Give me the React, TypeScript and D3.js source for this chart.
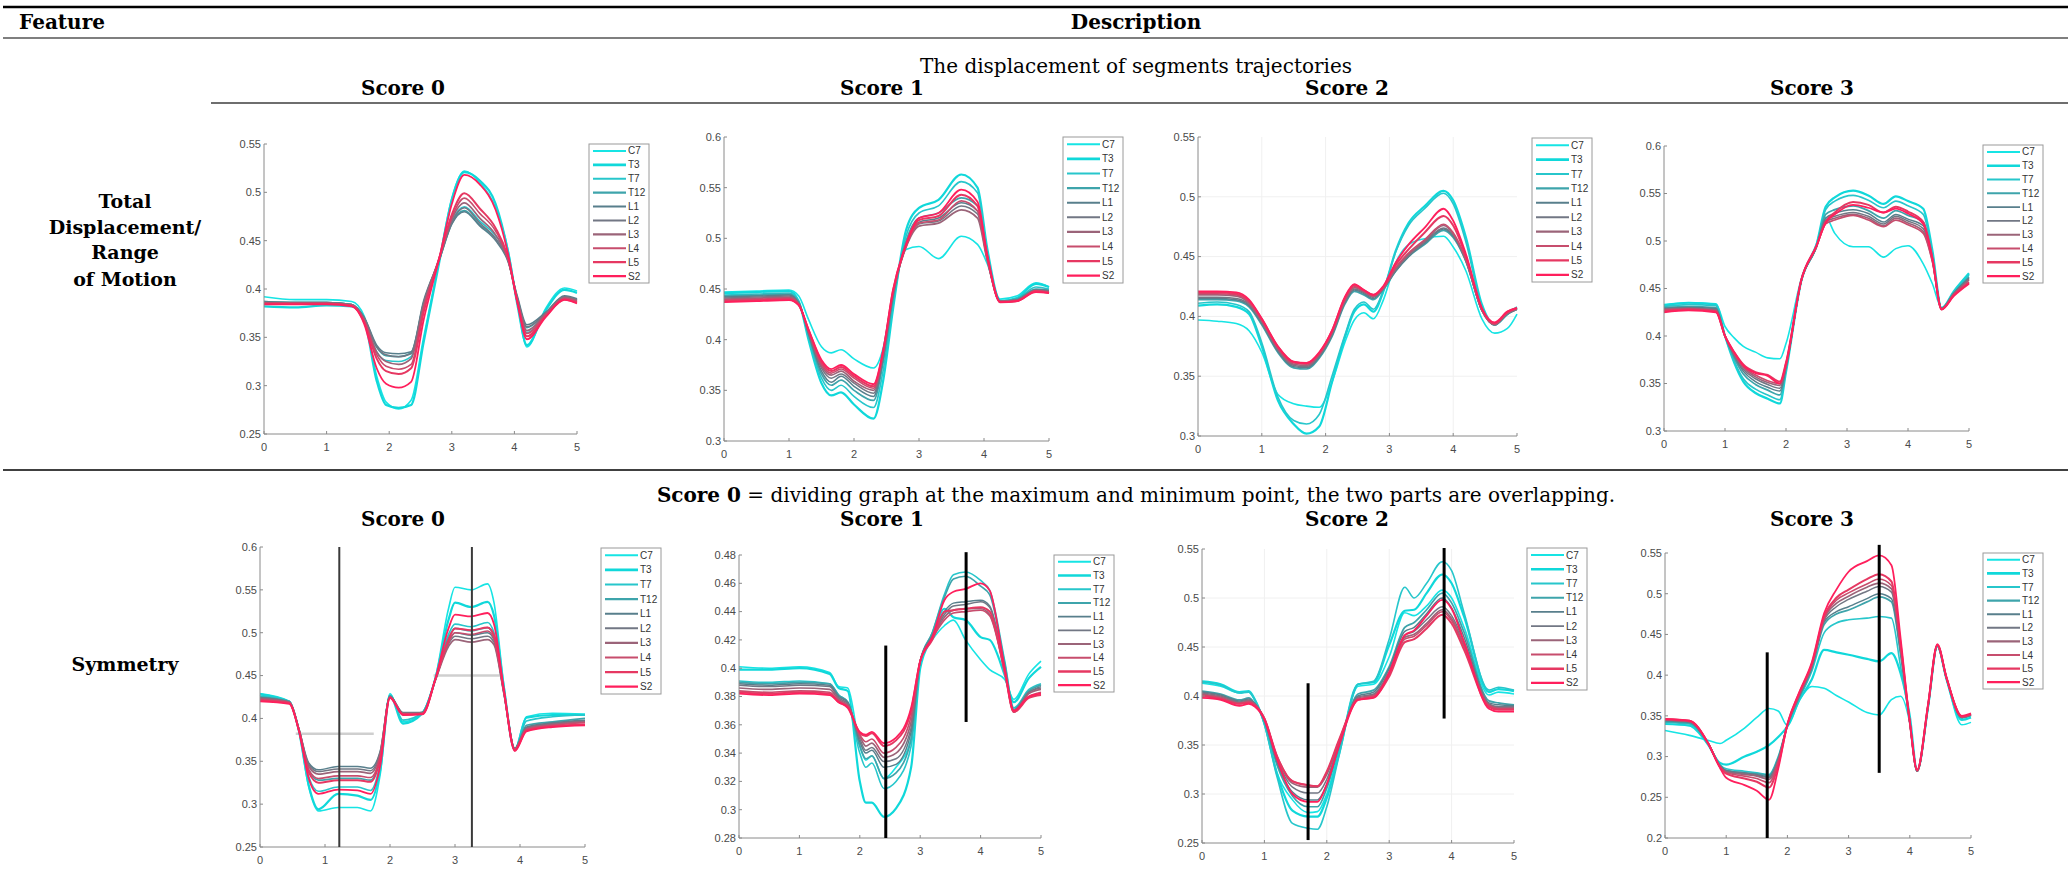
import React from 'react';
import * as d3 from 'd3';

// ---- series meta ----
const seriesNames = ['C7', 'T3', 'T7', 'T12', 'L1', 'L2', 'L3', 'L4', 'L5', 'S2'];
const seriesColors = ['#16e4e4', '#10d8da', '#27c6cb', '#3ea4ab', '#587f8c', '#727784', '#9b6479', '#c74d6d', '#e63862', '#ff1f5c'];
const seriesWidths = [1.6, 2.2, 1.6, 1.7, 1.5, 1.5, 1.7, 1.6, 2.0, 1.8];
const scoreLabels = ['Score 0', 'Score 1', 'Score 2', 'Score 3'];
const xTickValues = [0, 1, 2, 3, 4, 5];

// ---- row 1: displacement, score 0..3 ----
const xsDisp0 = [0, 0.5, 1, 1.4, 1.6, 1.8, 1.95, 2.15, 2.35, 2.55, 2.8, 3.0, 3.2, 3.45, 3.7, 3.9, 4.05, 4.2, 4.5, 4.8, 5];
const dispScore0 = [
  [0.392, 0.389, 0.389, 0.387, 0.372, 0.310, 0.283, 0.276, 0.285, 0.350, 0.430, 0.494, 0.522, 0.510, 0.484, 0.440, 0.385, 0.340, 0.380, 0.401, 0.398],
  [0.382, 0.381, 0.383, 0.382, 0.368, 0.305, 0.280, 0.277, 0.280, 0.345, 0.428, 0.492, 0.521, 0.512, 0.488, 0.438, 0.383, 0.342, 0.378, 0.399, 0.396],
  [0.386, 0.386, 0.386, 0.384, 0.368, 0.335, 0.326, 0.325, 0.330, 0.380, 0.430, 0.470, 0.485, 0.470, 0.455, 0.432, 0.385, 0.355, 0.372, 0.391, 0.388],
  [0.387, 0.386, 0.386, 0.384, 0.370, 0.340, 0.331, 0.330, 0.334, 0.385, 0.430, 0.468, 0.481, 0.466, 0.452, 0.430, 0.390, 0.360, 0.375, 0.392, 0.389],
  [0.387, 0.386, 0.386, 0.384, 0.371, 0.342, 0.334, 0.333, 0.335, 0.388, 0.430, 0.467, 0.480, 0.465, 0.450, 0.428, 0.392, 0.363, 0.376, 0.393, 0.390],
  [0.386, 0.386, 0.386, 0.384, 0.370, 0.340, 0.332, 0.330, 0.333, 0.386, 0.431, 0.469, 0.484, 0.468, 0.452, 0.429, 0.390, 0.361, 0.375, 0.392, 0.389],
  [0.385, 0.385, 0.385, 0.383, 0.368, 0.335, 0.325, 0.322, 0.328, 0.383, 0.432, 0.472, 0.489, 0.473, 0.456, 0.430, 0.388, 0.357, 0.374, 0.391, 0.388],
  [0.385, 0.385, 0.385, 0.383, 0.367, 0.332, 0.320, 0.317, 0.322, 0.380, 0.432, 0.474, 0.494, 0.478, 0.460, 0.431, 0.387, 0.354, 0.373, 0.390, 0.387],
  [0.385, 0.385, 0.385, 0.383, 0.366, 0.328, 0.315, 0.312, 0.318, 0.376, 0.432, 0.477, 0.499, 0.483, 0.463, 0.432, 0.386, 0.351, 0.372, 0.389, 0.386],
  [0.384, 0.384, 0.384, 0.382, 0.364, 0.318, 0.302, 0.298, 0.304, 0.368, 0.432, 0.488, 0.518, 0.508, 0.482, 0.436, 0.385, 0.348, 0.371, 0.389, 0.385],
];

const xsDisp1 = [0, 0.5, 1.0, 1.15, 1.3, 1.5, 1.65, 1.8, 2.0, 2.3, 2.45, 2.6, 2.8, 3.0, 3.3, 3.65, 3.9, 4.05, 4.25, 4.5, 4.8, 5];
const dispScore1 = [
  [0.447, 0.448, 0.449, 0.443, 0.420, 0.393, 0.387, 0.390, 0.381, 0.372, 0.392, 0.445, 0.489, 0.492, 0.480, 0.502, 0.494, 0.475, 0.440, 0.443, 0.456, 0.452],
  [0.446, 0.447, 0.448, 0.438, 0.400, 0.357, 0.345, 0.348, 0.336, 0.322, 0.360, 0.430, 0.508, 0.530, 0.538, 0.563, 0.550, 0.490, 0.438, 0.441, 0.455, 0.452],
  [0.444, 0.445, 0.446, 0.437, 0.403, 0.362, 0.350, 0.355, 0.344, 0.333, 0.370, 0.435, 0.502, 0.525, 0.532, 0.556, 0.545, 0.486, 0.438, 0.440, 0.452, 0.450],
  [0.443, 0.444, 0.445, 0.437, 0.405, 0.366, 0.355, 0.360, 0.350, 0.340, 0.378, 0.440, 0.497, 0.520, 0.525, 0.540, 0.532, 0.482, 0.438, 0.440, 0.450, 0.449],
  [0.442, 0.443, 0.444, 0.436, 0.406, 0.369, 0.358, 0.364, 0.354, 0.344, 0.382, 0.443, 0.494, 0.516, 0.520, 0.535, 0.527, 0.480, 0.438, 0.439, 0.449, 0.448],
  [0.441, 0.442, 0.443, 0.436, 0.407, 0.372, 0.362, 0.366, 0.357, 0.347, 0.385, 0.445, 0.492, 0.514, 0.517, 0.532, 0.524, 0.479, 0.438, 0.439, 0.449, 0.448],
  [0.440, 0.441, 0.442, 0.435, 0.408, 0.374, 0.365, 0.369, 0.359, 0.350, 0.387, 0.446, 0.491, 0.512, 0.515, 0.528, 0.520, 0.478, 0.438, 0.439, 0.448, 0.447],
  [0.439, 0.440, 0.441, 0.435, 0.409, 0.376, 0.367, 0.371, 0.362, 0.352, 0.388, 0.447, 0.492, 0.515, 0.518, 0.537, 0.527, 0.480, 0.437, 0.438, 0.448, 0.447],
  [0.438, 0.439, 0.440, 0.434, 0.410, 0.378, 0.369, 0.373, 0.364, 0.354, 0.389, 0.448, 0.493, 0.518, 0.522, 0.543, 0.532, 0.482, 0.437, 0.438, 0.448, 0.446],
  [0.437, 0.438, 0.439, 0.434, 0.410, 0.380, 0.371, 0.375, 0.366, 0.356, 0.390, 0.449, 0.494, 0.520, 0.525, 0.548, 0.536, 0.484, 0.437, 0.438, 0.447, 0.446],
];

const xsDisp2 = [0, 0.3, 0.6, 0.8, 1.0, 1.25, 1.5, 1.7, 1.9, 2.1, 2.3, 2.45, 2.6, 2.75, 2.9, 3.1, 3.3, 3.55, 3.85, 4.0, 4.2, 4.45, 4.65, 4.85, 5];
const dispScore2 = [
  [0.397, 0.396, 0.394, 0.388, 0.370, 0.335, 0.327, 0.325, 0.324, 0.345, 0.378, 0.397, 0.403, 0.398, 0.413, 0.445, 0.460, 0.465, 0.467, 0.458, 0.438, 0.398, 0.386, 0.390, 0.402],
  [0.409, 0.410, 0.408, 0.402, 0.375, 0.330, 0.310, 0.302, 0.308, 0.345, 0.382, 0.404, 0.410, 0.404, 0.420, 0.455, 0.478, 0.492, 0.505, 0.497, 0.466, 0.410, 0.393, 0.402, 0.407],
  [0.411, 0.412, 0.410, 0.404, 0.378, 0.333, 0.313, 0.310, 0.318, 0.350, 0.384, 0.406, 0.412, 0.406, 0.421, 0.454, 0.476, 0.490, 0.503, 0.494, 0.462, 0.408, 0.393, 0.403, 0.408],
  [0.414, 0.414, 0.413, 0.408, 0.393, 0.370, 0.357, 0.356, 0.365, 0.383, 0.410, 0.421, 0.418, 0.414, 0.422, 0.438, 0.450, 0.460, 0.472, 0.466, 0.446, 0.405, 0.393, 0.402, 0.406],
  [0.415, 0.415, 0.414, 0.409, 0.394, 0.371, 0.358, 0.357, 0.366, 0.384, 0.411, 0.422, 0.419, 0.415, 0.423, 0.438, 0.450, 0.461, 0.473, 0.467, 0.446, 0.405, 0.393, 0.402, 0.406],
  [0.416, 0.416, 0.415, 0.410, 0.395, 0.372, 0.359, 0.358, 0.367, 0.385, 0.412, 0.423, 0.420, 0.416, 0.423, 0.439, 0.451, 0.462, 0.474, 0.468, 0.447, 0.405, 0.393, 0.402, 0.406],
  [0.418, 0.418, 0.417, 0.411, 0.396, 0.373, 0.360, 0.359, 0.368, 0.386, 0.413, 0.424, 0.421, 0.417, 0.423, 0.440, 0.452, 0.463, 0.476, 0.469, 0.447, 0.405, 0.393, 0.403, 0.406],
  [0.419, 0.419, 0.418, 0.412, 0.397, 0.374, 0.361, 0.360, 0.369, 0.387, 0.414, 0.425, 0.421, 0.417, 0.424, 0.441, 0.453, 0.464, 0.477, 0.470, 0.448, 0.406, 0.394, 0.403, 0.407],
  [0.420, 0.420, 0.419, 0.413, 0.398, 0.375, 0.362, 0.361, 0.369, 0.388, 0.415, 0.426, 0.422, 0.418, 0.424, 0.443, 0.456, 0.470, 0.484, 0.476, 0.450, 0.406, 0.394, 0.404, 0.407],
  [0.421, 0.421, 0.420, 0.414, 0.398, 0.375, 0.362, 0.361, 0.370, 0.388, 0.416, 0.427, 0.422, 0.418, 0.425, 0.445, 0.460, 0.474, 0.490, 0.480, 0.452, 0.407, 0.395, 0.404, 0.407],
];

const xsDisp3 = [0, 0.4, 0.85, 1.0, 1.15, 1.3, 1.5, 1.7, 1.9, 2.0, 2.25, 2.5, 2.65, 2.8, 3.1, 3.35, 3.6, 3.8, 4.0, 4.25, 4.4, 4.55, 4.75, 5];
const dispScore3 = [
  [0.433, 0.435, 0.434, 0.410, 0.398, 0.389, 0.383, 0.377, 0.376, 0.392, 0.460, 0.497, 0.525, 0.508, 0.494, 0.494, 0.483, 0.492, 0.495, 0.476, 0.455, 0.430, 0.445, 0.465],
  [0.432, 0.435, 0.433, 0.400, 0.372, 0.352, 0.340, 0.334, 0.329, 0.362, 0.458, 0.496, 0.536, 0.546, 0.553, 0.548, 0.539, 0.547, 0.542, 0.534, 0.490, 0.429, 0.447, 0.466],
  [0.431, 0.433, 0.432, 0.400, 0.374, 0.355, 0.344, 0.338, 0.333, 0.364, 0.458, 0.495, 0.533, 0.542, 0.548, 0.543, 0.535, 0.542, 0.537, 0.528, 0.487, 0.429, 0.446, 0.464],
  [0.430, 0.431, 0.430, 0.400, 0.377, 0.360, 0.349, 0.343, 0.338, 0.366, 0.458, 0.494, 0.528, 0.533, 0.537, 0.532, 0.524, 0.532, 0.527, 0.520, 0.483, 0.429, 0.445, 0.462],
  [0.429, 0.430, 0.429, 0.400, 0.379, 0.363, 0.352, 0.346, 0.342, 0.367, 0.458, 0.494, 0.524, 0.529, 0.533, 0.529, 0.520, 0.528, 0.523, 0.516, 0.481, 0.429, 0.445, 0.461],
  [0.428, 0.429, 0.428, 0.400, 0.380, 0.365, 0.355, 0.349, 0.345, 0.368, 0.458, 0.494, 0.522, 0.526, 0.530, 0.526, 0.518, 0.526, 0.521, 0.513, 0.480, 0.429, 0.444, 0.460],
  [0.428, 0.429, 0.427, 0.400, 0.381, 0.367, 0.357, 0.351, 0.348, 0.369, 0.458, 0.494, 0.520, 0.524, 0.528, 0.524, 0.516, 0.524, 0.519, 0.510, 0.479, 0.429, 0.444, 0.459],
  [0.427, 0.428, 0.426, 0.400, 0.382, 0.368, 0.359, 0.353, 0.350, 0.370, 0.458, 0.494, 0.518, 0.522, 0.527, 0.522, 0.515, 0.522, 0.517, 0.508, 0.478, 0.428, 0.443, 0.457],
  [0.426, 0.428, 0.426, 0.400, 0.383, 0.370, 0.362, 0.359, 0.352, 0.372, 0.459, 0.495, 0.520, 0.530, 0.541, 0.538, 0.530, 0.536, 0.531, 0.520, 0.482, 0.428, 0.443, 0.456],
  [0.425, 0.427, 0.425, 0.400, 0.383, 0.369, 0.361, 0.358, 0.350, 0.371, 0.459, 0.495, 0.519, 0.528, 0.538, 0.535, 0.530, 0.534, 0.529, 0.518, 0.481, 0.428, 0.442, 0.455],
];

// ---- row 2: symmetry, score 0..3 ----
const xsSym0 = [0, 0.45, 0.6, 0.75, 0.9, 1.2, 1.5, 1.7, 1.85, 2.0, 2.2, 2.5, 2.7, 2.9, 3.0, 3.25, 3.5, 3.6, 3.75, 3.92, 4.1, 4.5, 5];
const symScore0 = [
  [0.429, 0.420, 0.385, 0.320, 0.292, 0.296, 0.296, 0.292, 0.335, 0.429, 0.396, 0.407, 0.448, 0.528, 0.553, 0.550, 0.557, 0.535, 0.440, 0.364, 0.402, 0.406, 0.405],
  [0.428, 0.419, 0.385, 0.322, 0.294, 0.312, 0.310, 0.305, 0.340, 0.427, 0.394, 0.406, 0.447, 0.515, 0.535, 0.530, 0.536, 0.520, 0.437, 0.363, 0.401, 0.404, 0.404],
  [0.426, 0.420, 0.386, 0.332, 0.315, 0.320, 0.320, 0.316, 0.348, 0.427, 0.398, 0.407, 0.446, 0.498, 0.510, 0.507, 0.512, 0.500, 0.434, 0.364, 0.397, 0.402, 0.404],
  [0.425, 0.420, 0.387, 0.340, 0.328, 0.330, 0.330, 0.328, 0.355, 0.426, 0.404, 0.407, 0.446, 0.494, 0.505, 0.502, 0.506, 0.496, 0.432, 0.365, 0.392, 0.396, 0.400],
  [0.424, 0.419, 0.387, 0.348, 0.340, 0.344, 0.344, 0.342, 0.362, 0.426, 0.407, 0.407, 0.445, 0.490, 0.500, 0.497, 0.500, 0.492, 0.431, 0.365, 0.390, 0.395, 0.398],
  [0.424, 0.419, 0.387, 0.346, 0.338, 0.341, 0.341, 0.339, 0.361, 0.426, 0.406, 0.407, 0.445, 0.487, 0.496, 0.493, 0.496, 0.489, 0.430, 0.365, 0.389, 0.394, 0.397],
  [0.423, 0.419, 0.387, 0.344, 0.335, 0.338, 0.338, 0.336, 0.359, 0.425, 0.406, 0.406, 0.445, 0.484, 0.492, 0.489, 0.492, 0.486, 0.430, 0.364, 0.388, 0.393, 0.396],
  [0.422, 0.418, 0.386, 0.340, 0.330, 0.333, 0.333, 0.331, 0.356, 0.425, 0.405, 0.406, 0.446, 0.488, 0.500, 0.498, 0.502, 0.493, 0.432, 0.364, 0.387, 0.392, 0.395],
  [0.421, 0.418, 0.386, 0.337, 0.325, 0.328, 0.328, 0.326, 0.353, 0.424, 0.405, 0.405, 0.446, 0.492, 0.505, 0.503, 0.506, 0.497, 0.433, 0.363, 0.386, 0.391, 0.393],
  [0.420, 0.417, 0.385, 0.330, 0.312, 0.317, 0.316, 0.312, 0.345, 0.424, 0.404, 0.405, 0.447, 0.505, 0.521, 0.519, 0.523, 0.510, 0.435, 0.362, 0.385, 0.390, 0.392],
];

const xsSym1 = [0, 0.5, 1.0, 1.5, 1.65, 1.8, 2.0, 2.1, 2.2, 2.4, 2.6, 2.85, 3.0, 3.2, 3.4, 3.55, 3.75, 4.0, 4.15, 4.4, 4.55, 4.8, 5];
const symScore1 = [
  [0.401, 0.400, 0.401, 0.397, 0.387, 0.386, 0.345, 0.335, 0.338, 0.322, 0.330, 0.350, 0.405, 0.420, 0.430, 0.434, 0.420, 0.406, 0.399, 0.392, 0.378, 0.396, 0.405],
  [0.399, 0.399, 0.400, 0.396, 0.386, 0.384, 0.320, 0.305, 0.305, 0.295, 0.301, 0.330, 0.400, 0.422, 0.442, 0.436, 0.434, 0.422, 0.420, 0.395, 0.376, 0.393, 0.401],
  [0.391, 0.390, 0.391, 0.389, 0.381, 0.376, 0.340, 0.330, 0.333, 0.315, 0.320, 0.345, 0.404, 0.425, 0.452, 0.466, 0.468, 0.462, 0.455, 0.405, 0.372, 0.385, 0.389],
  [0.390, 0.389, 0.390, 0.389, 0.381, 0.376, 0.345, 0.336, 0.338, 0.322, 0.326, 0.350, 0.405, 0.425, 0.450, 0.463, 0.465, 0.458, 0.452, 0.403, 0.371, 0.384, 0.388],
  [0.389, 0.388, 0.389, 0.388, 0.380, 0.376, 0.348, 0.340, 0.342, 0.330, 0.332, 0.355, 0.405, 0.423, 0.440, 0.446, 0.447, 0.448, 0.444, 0.400, 0.370, 0.383, 0.387],
  [0.388, 0.387, 0.388, 0.387, 0.379, 0.375, 0.350, 0.342, 0.344, 0.334, 0.336, 0.358, 0.405, 0.422, 0.438, 0.444, 0.445, 0.447, 0.443, 0.399, 0.370, 0.383, 0.386],
  [0.386, 0.385, 0.386, 0.385, 0.378, 0.374, 0.352, 0.345, 0.347, 0.337, 0.340, 0.362, 0.405, 0.421, 0.436, 0.441, 0.442, 0.442, 0.438, 0.398, 0.369, 0.382, 0.385],
  [0.384, 0.383, 0.384, 0.383, 0.377, 0.373, 0.353, 0.348, 0.350, 0.340, 0.344, 0.366, 0.405, 0.421, 0.434, 0.439, 0.440, 0.441, 0.437, 0.397, 0.369, 0.380, 0.383],
  [0.383, 0.382, 0.383, 0.382, 0.376, 0.373, 0.354, 0.352, 0.354, 0.345, 0.349, 0.370, 0.405, 0.420, 0.440, 0.441, 0.442, 0.443, 0.440, 0.397, 0.369, 0.379, 0.381],
  [0.382, 0.381, 0.382, 0.381, 0.376, 0.372, 0.355, 0.353, 0.355, 0.347, 0.351, 0.372, 0.405, 0.422, 0.448, 0.454, 0.456, 0.460, 0.455, 0.400, 0.370, 0.380, 0.382],
];

const xsSym2 = [0, 0.3, 0.6, 0.75, 0.85, 1.0, 1.2, 1.45, 1.7, 1.85, 2.0, 2.2, 2.5, 2.75, 3.0, 3.25, 3.4, 3.6, 3.85, 4.0, 4.2, 4.6, 4.75, 5];
const symScore2 = [
  [0.413, 0.410, 0.403, 0.404, 0.395, 0.372, 0.322, 0.294, 0.281, 0.282, 0.300, 0.344, 0.410, 0.412, 0.440, 0.485, 0.482, 0.492, 0.508, 0.500, 0.470, 0.401, 0.404, 0.402],
  [0.415, 0.412, 0.404, 0.405, 0.396, 0.372, 0.321, 0.283, 0.277, 0.277, 0.296, 0.342, 0.412, 0.414, 0.452, 0.487, 0.488, 0.505, 0.524, 0.515, 0.481, 0.404, 0.407, 0.405],
  [0.414, 0.411, 0.403, 0.404, 0.396, 0.371, 0.318, 0.270, 0.265, 0.264, 0.287, 0.340, 0.412, 0.415, 0.458, 0.511, 0.500, 0.515, 0.537, 0.528, 0.485, 0.406, 0.409, 0.406],
  [0.405, 0.402, 0.396, 0.398, 0.392, 0.374, 0.330, 0.298, 0.287, 0.287, 0.306, 0.348, 0.402, 0.406, 0.430, 0.470, 0.475, 0.488, 0.505, 0.495, 0.465, 0.395, 0.393, 0.391],
  [0.404, 0.401, 0.395, 0.397, 0.392, 0.375, 0.333, 0.302, 0.294, 0.294, 0.310, 0.350, 0.400, 0.404, 0.428, 0.466, 0.470, 0.484, 0.500, 0.490, 0.460, 0.393, 0.391, 0.390],
  [0.403, 0.400, 0.394, 0.396, 0.392, 0.376, 0.336, 0.307, 0.301, 0.301, 0.315, 0.352, 0.399, 0.402, 0.425, 0.462, 0.466, 0.478, 0.491, 0.482, 0.455, 0.392, 0.389, 0.389],
  [0.402, 0.399, 0.393, 0.395, 0.391, 0.377, 0.338, 0.311, 0.307, 0.307, 0.320, 0.354, 0.398, 0.401, 0.423, 0.460, 0.463, 0.474, 0.488, 0.479, 0.452, 0.391, 0.388, 0.388],
  [0.401, 0.398, 0.392, 0.394, 0.391, 0.377, 0.339, 0.313, 0.309, 0.308, 0.322, 0.355, 0.397, 0.400, 0.422, 0.458, 0.461, 0.472, 0.486, 0.477, 0.450, 0.390, 0.387, 0.387],
  [0.400, 0.397, 0.392, 0.393, 0.390, 0.377, 0.339, 0.313, 0.309, 0.308, 0.323, 0.356, 0.396, 0.399, 0.420, 0.455, 0.458, 0.469, 0.483, 0.474, 0.447, 0.389, 0.386, 0.386],
  [0.398, 0.396, 0.390, 0.392, 0.389, 0.376, 0.336, 0.300, 0.292, 0.292, 0.310, 0.350, 0.396, 0.398, 0.424, 0.462, 0.467, 0.482, 0.498, 0.489, 0.455, 0.387, 0.384, 0.384],
];

const xsSym3 = [0, 0.4, 0.7, 0.9, 1.0, 1.3, 1.5, 1.7, 1.85, 2.0, 2.2, 2.4, 2.6, 2.8, 3.0, 3.3, 3.5, 3.7, 3.85, 4.0, 4.12, 4.3, 4.45, 4.6, 4.85, 5];
const symScore3 = [
  [0.332, 0.326, 0.320, 0.316, 0.320, 0.335, 0.348, 0.359, 0.356, 0.338, 0.370, 0.386, 0.384, 0.375, 0.367, 0.354, 0.351, 0.370, 0.374, 0.341, 0.283, 0.360, 0.435, 0.395, 0.339, 0.342],
  [0.340, 0.338, 0.315, 0.292, 0.290, 0.300, 0.306, 0.314, 0.324, 0.337, 0.370, 0.395, 0.431, 0.428, 0.425, 0.420, 0.417, 0.427, 0.402, 0.350, 0.283, 0.362, 0.436, 0.395, 0.345, 0.348],
  [0.342, 0.340, 0.316, 0.290, 0.285, 0.282, 0.280, 0.278, 0.300, 0.338, 0.372, 0.405, 0.452, 0.464, 0.468, 0.470, 0.472, 0.470, 0.410, 0.345, 0.282, 0.362, 0.437, 0.396, 0.347, 0.350],
  [0.343, 0.341, 0.316, 0.289, 0.283, 0.280, 0.279, 0.277, 0.298, 0.338, 0.374, 0.408, 0.462, 0.475, 0.480, 0.490, 0.496, 0.490, 0.425, 0.342, 0.282, 0.363, 0.436, 0.396, 0.348, 0.351],
  [0.344, 0.342, 0.317, 0.289, 0.283, 0.280, 0.278, 0.275, 0.297, 0.338, 0.375, 0.410, 0.465, 0.478, 0.484, 0.494, 0.500, 0.494, 0.428, 0.342, 0.282, 0.363, 0.436, 0.396, 0.348, 0.351],
  [0.345, 0.343, 0.317, 0.288, 0.282, 0.279, 0.277, 0.274, 0.296, 0.339, 0.376, 0.411, 0.467, 0.484, 0.493, 0.503, 0.509, 0.502, 0.432, 0.342, 0.282, 0.363, 0.436, 0.396, 0.348, 0.351],
  [0.345, 0.343, 0.317, 0.288, 0.281, 0.278, 0.276, 0.272, 0.295, 0.339, 0.377, 0.412, 0.469, 0.488, 0.497, 0.508, 0.513, 0.506, 0.434, 0.342, 0.282, 0.363, 0.436, 0.396, 0.349, 0.352],
  [0.345, 0.343, 0.317, 0.287, 0.280, 0.276, 0.273, 0.268, 0.293, 0.339, 0.378, 0.413, 0.470, 0.492, 0.501, 0.512, 0.518, 0.510, 0.436, 0.342, 0.283, 0.364, 0.437, 0.397, 0.349, 0.352],
  [0.346, 0.344, 0.317, 0.287, 0.279, 0.273, 0.269, 0.262, 0.290, 0.339, 0.379, 0.414, 0.472, 0.495, 0.505, 0.518, 0.524, 0.515, 0.438, 0.342, 0.283, 0.364, 0.437, 0.397, 0.349, 0.352],
  [0.346, 0.344, 0.317, 0.286, 0.274, 0.265, 0.258, 0.247, 0.285, 0.340, 0.380, 0.416, 0.476, 0.505, 0.527, 0.540, 0.547, 0.535, 0.445, 0.343, 0.284, 0.365, 0.438, 0.397, 0.350, 0.353],
];

// symmetry division lines (x, from y0 to y1), one list per score
const symmetryCuts = [
  [{ x: 1.22, y0: 0.6, y1: 0.25 }, { x: 3.26, y0: 0.6, y1: 0.25 }],
  [{ x: 2.43, y0: 0.416, y1: 0.28 }, { x: 3.76, y0: 0.482, y1: 0.362 }],
  [{ x: 1.7, y0: 0.413, y1: 0.253 }, { x: 3.88, y0: 0.551, y1: 0.377 }],
  [{ x: 1.67, y0: 0.428, y1: 0.2 }, { x: 3.5, y0: 0.56, y1: 0.28 }],
];
// faint midlines on symmetry score 0
const sym0Midlines = [{ x0: 0.55, x1: 1.75, y: 0.382 }, { x0: 2.67, x1: 3.72, y: 0.45 }];

// layout of each plot (pixel boxes)
const panels = [
  { xs: xsDisp0, data: dispScore0, dom: [0.25, 0.55], step: 0.05, l: 264, r: 577, t: 144, b: 434, lx: 589, ly: 144, lh: 139 },
  { xs: xsDisp1, data: dispScore1, dom: [0.3, 0.6], step: 0.05, l: 724, r: 1049, t: 137, b: 441, lx: 1063, ly: 137, lh: 146 },
  { xs: xsDisp2, data: dispScore2, dom: [0.3, 0.55], step: 0.05, l: 1198, r: 1517, t: 137, b: 436, lx: 1532, ly: 138, lh: 144, grid: true },
  { xs: xsDisp3, data: dispScore3, dom: [0.3, 0.6], step: 0.05, l: 1664, r: 1969, t: 146, b: 431, lx: 1983, ly: 145, lh: 138 },
  { xs: xsSym0, data: symScore0, dom: [0.25, 0.6], step: 0.05, l: 260, r: 585, t: 547, b: 847, lx: 601, ly: 548, lh: 146, cuts: symmetryCuts[0], mids: sym0Midlines, cutW: 2, cutC: '#3a3a3a' },
  { xs: xsSym1, data: symScore1, dom: [0.28, 0.48], step: 0.02, l: 739, r: 1041, t: 555, b: 838, lx: 1054, ly: 555, lh: 137, cuts: symmetryCuts[1] },
  { xs: xsSym2, data: symScore2, dom: [0.25, 0.55], step: 0.05, l: 1202, r: 1514, t: 549, b: 843, lx: 1527, ly: 548, lh: 142, cuts: symmetryCuts[2], grid: true },
  { xs: xsSym3, data: symScore3, dom: [0.2, 0.55], step: 0.05, l: 1665, r: 1971, t: 553, b: 838, lx: 1983, ly: 553, lh: 136, cuts: symmetryCuts[3] },
];

const tickFont = '"Liberation Sans", Arial, sans-serif';
const serif = '"DejaVu Serif", serif';
const fmt = (v: number) => String(+v.toFixed(2));

function Panel({ p }: { p: any }) {
  const x = d3.scaleLinear().domain([0, 5]).range([p.l, p.r]);
  const y = d3.scaleLinear().domain(p.dom).range([p.b, p.t]);
  const line = d3.line<number>()
    .x((_, i) => x(p.xs[i]))
    .y((d) => y(d))
    .curve(d3.curveMonotoneX);
  const yTicks = d3.range(p.dom[0], p.dom[1] + p.step / 2, p.step);
  const rowH = p.lh / 10;

  return (
    <g>
      {/* faint grid */}
      {p.grid && xTickValues.slice(1, -1).map((v) => (
        <line key={'gx' + v} x1={x(v)} x2={x(v)} y1={p.t} y2={p.b} stroke="#f0f0f0" strokeWidth={1} />
      ))}
      {p.grid && yTicks.slice(1, -1).map((v) => (
        <line key={'gy' + v} x1={p.l} x2={p.r} y1={y(v)} y2={y(v)} stroke="#f0f0f0" strokeWidth={1} />
      ))}

      {/* faint midlines */}
      {p.mids && p.mids.map((m: any, i: number) => (
        <line key={'m' + i} x1={x(m.x0)} x2={x(m.x1)} y1={y(m.y)} y2={y(m.y)} stroke="#cfcfcf" strokeWidth={2.5} />
      ))}

      {/* series */}
      {p.data.map((vals: number[], i: number) => (
        <path key={i} d={line(vals) || ''} fill="none" stroke={seriesColors[i]}
          strokeWidth={seriesWidths[i]} strokeLinejoin="round" />
      ))}

      {/* axes */}
      <line x1={p.l} x2={p.l} y1={p.t} y2={p.b} stroke="#8a8a8a" strokeWidth={1} />
      <line x1={p.l} x2={p.r} y1={p.b} y2={p.b} stroke="#8a8a8a" strokeWidth={1} />
      {yTicks.map((v) => (
        <g key={'y' + v}>
          <line x1={p.l} x2={p.l + 3} y1={y(v)} y2={y(v)} stroke="#8a8a8a" />
          <text x={p.l - 3} y={y(v)} dy="0.35em" textAnchor="end" fontFamily={tickFont}
            fontSize={11} fill="#4a4a4a">{fmt(v)}</text>
        </g>
      ))}
      {xTickValues.map((v) => (
        <g key={'x' + v}>
          <line x1={x(v)} x2={x(v)} y1={p.b} y2={p.b - 3} stroke="#8a8a8a" />
          <text x={x(v)} y={p.b + 13} dy="0.35em" textAnchor="middle" fontFamily={tickFont}
            fontSize={11} fill="#4a4a4a">{v}</text>
        </g>
      ))}

      {/* division lines */}
      {p.cuts && p.cuts.map((c: any, i: number) => (
        <line key={'c' + i} x1={x(c.x)} x2={x(c.x)} y1={y(c.y0)} y2={y(c.y1)}
          stroke={p.cutC || '#000'} strokeWidth={p.cutW || 3} />
      ))}

      {/* legend */}
      <rect x={p.lx} y={p.ly} width={60} height={p.lh} fill="#fff" stroke="#9a9a9a" strokeWidth={1} />
      {seriesNames.map((n, i) => {
        const cy = p.ly + rowH * (i + 0.5);
        return (
          <g key={n}>
            <line x1={p.lx + 4} x2={p.lx + 37} y1={cy} y2={cy} stroke={seriesColors[i]} strokeWidth={seriesWidths[i] + 0.4} />
            <text x={p.lx + 39} y={cy} dy="0.35em" fontFamily={tickFont} fontSize={10} fill="#333">{n}</text>
          </g>
        );
      })}
    </g>
  );
}

const scoreCenters = [403, 882, 1347, 1812];

export default function App() {
  return (
    <svg width={2071} height={875} style={{ position: 'absolute', left: 0, top: 0, background: '#fff' }}>
      <rect width={2071} height={875} fill="#fff" />
      {/* table rules */}
      <line x1={3} x2={2068} y1={7} y2={7} stroke="#000" strokeWidth={2.5} />
      <line x1={3} x2={2068} y1={38} y2={38} stroke="#000" strokeWidth={1.2} />
      <line x1={211} x2={2068} y1={103} y2={103} stroke="#6e6e6e" strokeWidth={2} />
      <line x1={3} x2={2068} y1={470} y2={470} stroke="#000" strokeWidth={1.5} />

      <g fontFamily={serif} fontSize={20} fill="#000" textAnchor="middle">
        <text x={62} y={29} fontWeight="bold">Feature</text>
        <text x={1136} y={29} fontWeight="bold">Description</text>
        <text x={1136} y={73}>The displacement of segments trajectories</text>
        {scoreLabels.map((s, i) => (
          <text key={'a' + s} x={scoreCenters[i]} y={95} fontWeight="bold">{s}</text>
        ))}
        <g fontSize={19}>
          <text x={125} y={208} fontWeight="bold">Total</text>
          <text x={125} y={234} fontWeight="bold">Displacement/</text>
          <text x={125} y={259} fontWeight="bold">Range</text>
          <text x={125} y={286} fontWeight="bold">of Motion</text>
        </g>

        <text x={1136} y={502}>
          <tspan fontWeight="bold">Score 0</tspan> = dividing graph at the maximum and minimum point, the two parts are overlapping.
        </text>
        {scoreLabels.map((s, i) => (
          <text key={'b' + s} x={scoreCenters[i]} y={526} fontWeight="bold">{s}</text>
        ))}
        <text x={125} y={671} fontWeight="bold" fontSize={19}>Symmetry</text>
      </g>

      {panels.map((p, i) => <Panel key={i} p={p} />)}
    </svg>
  );
}
